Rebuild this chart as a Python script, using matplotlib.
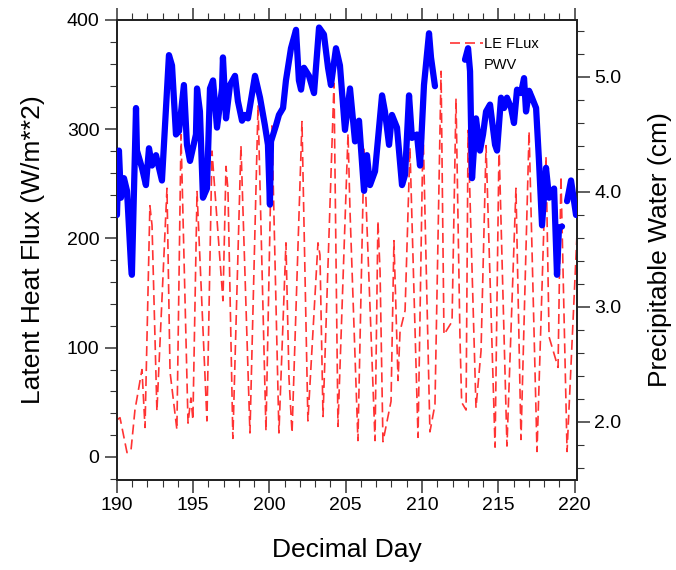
import numpy as np
import matplotlib
matplotlib.use("Agg")
import matplotlib.pyplot as plt
from matplotlib.lines import Line2D
from matplotlib.ticker import MultipleLocator

plt.rcParams['font.family'] = ['Liberation Sans', 'DejaVu Sans']

# latent heat flux (W/m**2)
le_day = [190.0, 190.2, 190.66, 190.92, 191.18, 191.64, 191.84, 192.16, 192.3, 192.62,
          193.28, 193.48, 193.93, 194.2, 194.66, 194.85, 194.98, 195.25, 195.9, 196.23,
          196.95, 197.15, 197.28, 197.6, 198.13, 198.72, 199.25, 199.77, 200.16, 200.62,
          201.08, 201.28, 201.48, 202.13, 202.52, 203.18, 203.31, 203.51, 204.23, 204.49,
          205.15, 205.28, 205.8, 206.2, 206.92, 207.11, 207.25, 207.44, 207.97, 208.16,
          208.43, 208.56, 208.89, 209.21, 209.74, 210.07, 210.52, 210.85, 211.25, 211.44,
          211.97, 212.23, 212.49, 212.6, 212.89, 213.02, 213.54, 213.87, 214.2, 214.79,
          215.05, 215.57, 216.16, 216.49, 217.02, 217.54, 218.13, 218.33, 218.92, 219.11,
          219.51, 220.16]
le_flux = [34, 36, 4, 6, 43, 80, 27, 230, 212, 42,
           246, 78, 25, 295, 31, 54, 34, 243, 33, 280,
           143, 266, 244, 17, 285, 22, 322, 24, 303, 22,
           196, 72, 22, 307, 33, 196, 185, 37, 342, 28,
           296, 225, 15, 283, 15, 216, 170, 14, 51, 198,
           70, 115, 134, 283, 18, 301, 23, 48, 353, 112,
           124, 328, 109, 50, 43, 299, 45, 97, 285, 9,
           285, 10, 246, 16, 298, 5, 275, 110, 82, 257,
           5, 203]

# precipitable water (cm), nan = gap in record
pwv_day = [190.0, 190.13, 190.26, 190.46, 190.66, 190.92, 190.98, 191.25, 191.31, 191.64,
           191.9, 192.1, 192.3, 192.56, 192.95, 193.41, 193.61, 193.87, 194.07, 194.39,
           194.59, 194.79, 195.18, 195.25, 195.44, 195.64, 195.9, 196.1, 196.3, 196.56,
           196.89, 196.95, 197.15, 197.41, 197.74, 197.93, 198.2, 198.39, 198.59, 199.05,
           199.38, 199.7, 199.9, 200.03, 200.1, 200.43, 200.62, 200.89, 201.08, 201.41,
           201.74, 201.93, 202.07, 202.26, 202.59, 202.92, 203.25, 203.57, 203.84, 204.03,
           204.36, 204.62, 204.95, 205.28, 205.61, 205.87, 206.2, 206.39, 206.59, 206.92,
           207.38, 207.57, 207.84, 208.03, 208.36, 208.69, 208.89, 209.15, 209.34, 209.67,
           209.87, 210.13, 210.46, 210.59, 210.85, 211.5, 212.82, 213.02, 213.15, 213.28,
           213.54, 213.8, 214.0, 214.2, 214.46, 214.79, 214.92, 215.18, 215.38, 215.57,
           215.84, 216.03, 216.23, 216.49, 216.69, 216.82, 217.02, 217.21, 217.48, 217.67,
           217.87, 218.13, 218.33, 218.66, 218.85, 218.98, 219.18, 219.35, 219.51, 219.77,
           220.1]
pwv = [3.80, 4.36, 3.95, 4.12, 4.01, 3.37, 3.28, 4.73, 4.36, 4.21,
       4.06, 4.38, 4.23, 4.32, 4.10, 5.19, 5.10, 4.50, 4.53, 4.93,
       4.41, 4.27, 4.50, 4.90, 4.70, 3.95, 4.03, 4.90, 4.97, 4.56,
       4.90, 5.17, 4.64, 4.93, 5.01, 4.79, 4.62, 4.67, 4.64, 5.01,
       4.82, 4.58, 4.41, 3.89, 4.44, 4.58, 4.67, 4.73, 4.97, 5.25,
       5.41, 4.97, 4.89, 5.08, 5.01, 4.86, 5.43, 5.37, 5.08, 4.93,
       5.25, 5.10, 4.54, 4.90, 4.44, 4.62, 4.01, 4.32, 4.06, 4.18,
       4.84, 4.70, 4.41, 4.67, 4.56, 4.06, 4.15, 4.84, 4.47, 4.50,
       4.23, 4.93, 5.38, 5.17, 4.92, np.nan, 5.15, 5.25, 5.05, 4.12,
       4.64, 4.36, 4.50, 4.70, 4.76, 4.41, 4.36, 4.82, 4.73, 4.82,
       4.73, 4.60, 4.89, 4.86, 4.99, 4.70, 4.88, 4.82, 4.73, 4.27,
       3.71, 4.21, 3.95, 4.03, 3.28, 3.69, 3.70, np.nan, 3.92, 4.10,
       3.80]

fig = plt.figure(figsize=(6.76, 5.70), dpi=100)
ax = fig.add_axes([0.173, 0.158, 0.6805, 0.807])
ax2 = ax.twinx()

l1, = ax.plot(le_day, le_flux, color='red', alpha=0.8, lw=1.2,
              linestyle=(0, (6, 3)), zorder=2)
ax2.plot(pwv_day, pwv, color='blue', lw=4.5, solid_capstyle='round', zorder=3)

ax.set_xlim(190, 220.16)
ax.set_ylim(-21, 400)
ax2.set_ylim(1.496, 5.496)

ax.xaxis.set_major_locator(MultipleLocator(5))
ax.xaxis.set_minor_locator(MultipleLocator(1))
ax.yaxis.set_major_locator(MultipleLocator(100))
ax.yaxis.set_minor_locator(MultipleLocator(20))
ax2.set_yticks([2.0, 3.0, 4.0, 5.0])
ax2.set_yticklabels(['2.0', '3.0', '4.0', '5.0'])
ax2.yaxis.set_minor_locator(MultipleLocator(0.2))

for a in (ax, ax2):
    a.tick_params(which='major', direction='out', length=9, width=1.1,
                  labelsize=14, color='#333333')
    a.tick_params(which='minor', direction='out', length=5, width=0.8,
                  color='#333333')
    for s in a.spines.values():
        s.set_linewidth(1.3)
        s.set_color('#222222')
ax.tick_params(axis='x', which='both', top=True)
ax.tick_params(axis='y', which='both', right=False)

ax.set_xlabel('Decimal Day', fontsize=19, labelpad=17)
ax.set_ylabel('Latent Heat Flux (W/m**2)', fontsize=19, labelpad=16)
ax2.set_ylabel('Precipitable Water (cm)', fontsize=19, labelpad=19)

pwv_handle = Line2D([], [], color='none')
fig.legend([l1, pwv_handle], ['LE FLux', 'PWV'], loc='upper left',
           bbox_to_anchor=(0.646, 0.958), frameon=False, fontsize=10.5,
           handlelength=2.3, handletextpad=0.05, labelspacing=0.45)

fig.savefig('out.png', dpi=100)
